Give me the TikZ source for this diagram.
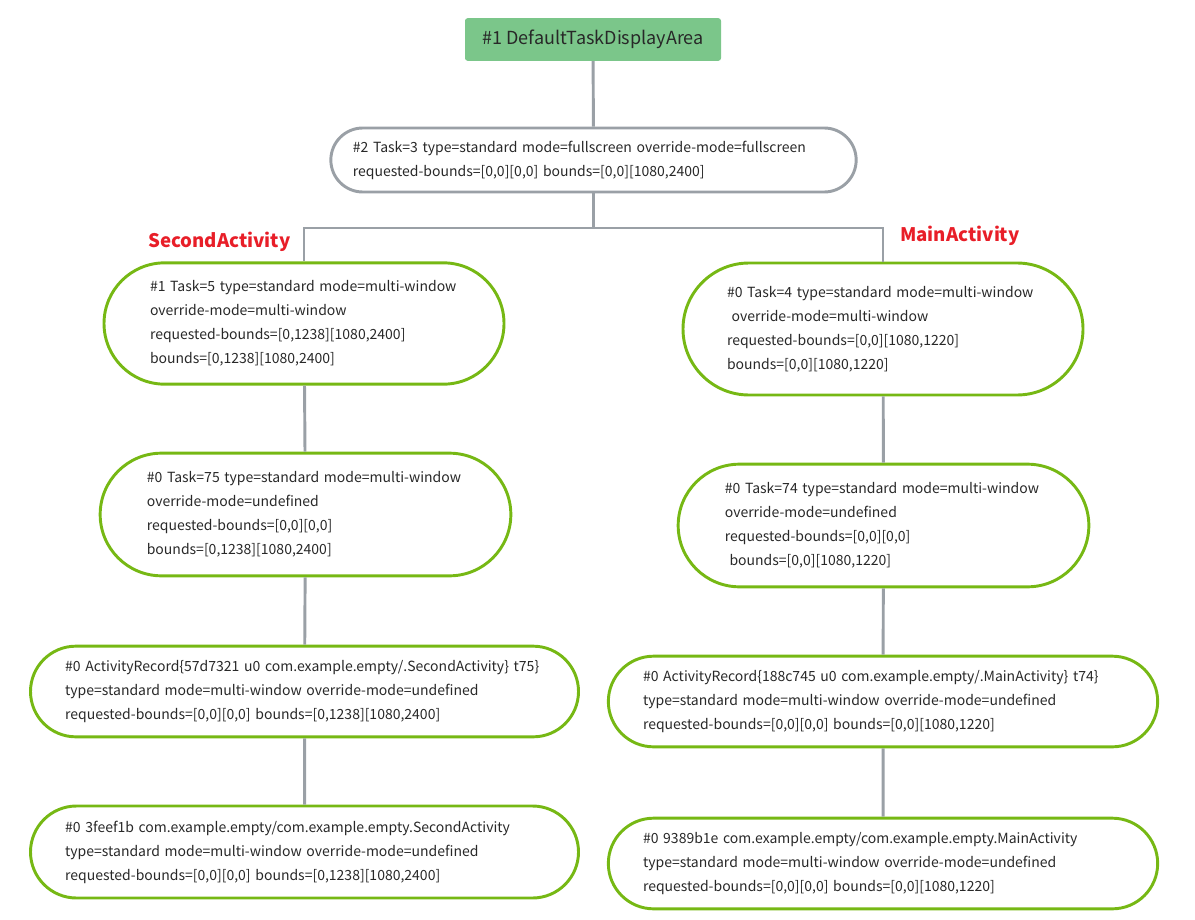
\documentclass[tikz,border=0pt]{standalone}
\usepackage{fontspec}
\setmainfont{Noto Sans CJK SC}
\usetikzlibrary{shapes.misc}
\definecolor{areagreen}{RGB}{123,198,138}
\definecolor{pillgreen}{RGB}{118,184,20}
\definecolor{linegray}{RGB}{154,160,166}
\definecolor{labelred}{RGB}{232,30,40}
\definecolor{txtgray}{RGB}{40,40,40}
\tikzset{
  pill/.style={draw=pillgreen, line width=2.2pt, rounded rectangle, align=left,
    text=txtgray, inner sep=0pt, font=\fontsize{10.5}{18}\selectfont,
    execute at begin node={\hyphenpenalty=10000 \exhyphenpenalty=10000 }},
  taskpill/.style={pill, draw=linegray},
  conn/.style={draw=linegray, line width=2.2pt},
  actlabel/.style={text=labelred, font=\fontsize{14}{16}\bfseries, anchor=west, inner sep=0pt}
}

\begin{document}
\begin{tikzpicture}[x=0.75pt, y=-0.75pt]
\useasboundingbox (0,0) rectangle (1195,920);
\node[fill=areagreen, rounded corners=2pt, minimum width=192pt, minimum height=32pt,
  text=txtgray, font=\fontsize{13.5}{16}\selectfont] (area) at (593,39.5) {\#1 DefaultTaskDisplayArea};
\node[taskpill, minimum width=394pt, minimum height=48pt, text width=361pt] (task3) at (593.5,160)
  {\#2 Task=3 type=standard mode=fullscreen override-mode=fullscreen\\
   requested-bounds=[0,0][0,0] bounds=[0,0][1080,2400]};
\coordinate (split) at (593.5,228);
% left column: SecondActivity
\node[actlabel] (secondlbl) at (148,242) {SecondActivity};
\node[pill, minimum width=300pt, minimum height=91pt, text width=231pt] (task5) at (304,323.5)
  {\#1 Task=5 type=standard mode=multi-window\\ override-mode=multi-window\\
   requested-bounds=[0,1238][1080,2400]\\ bounds=[0,1238][1080,2400]};
\node[pill, minimum width=308pt, minimum height=92pt, text width=238pt] (task75) at (305.5,514.5)
  {\#0 Task=75 type=standard mode=multi-window\\ override-mode=undefined\\
   requested-bounds=[0,0][0,0]\\ bounds=[0,1238][1080,2400]};
\node[pill, minimum width=411pt, minimum height=68pt, text width=359pt] (rec75) at (304.5,691.5)
  {\#0 ActivityRecord\{57d7321 u0 com.example.empty/.SecondActivity\} t75\}\\
   type=standard mode=multi-window override-mode=undefined\\
   requested-bounds=[0,0][0,0] bounds=[0,1238][1080,2400]};
\node[pill, minimum width=411pt, minimum height=69pt, text width=359pt] (win75) at (304.5,852)
  {\#0 3feef1b com.example.empty/com.example.empty.SecondActivity\\
   type=standard mode=multi-window override-mode=undefined\\
   requested-bounds=[0,0][0,0] bounds=[0,1238][1080,2400]};
% right column: MainActivity
\node[actlabel] (mainlbl) at (900,236) {MainActivity};
\node[pill, minimum width=300pt, minimum height=99pt, text width=234pt] (task4) at (883,329)
  {\#0 Task=4 type=standard mode=multi-window\\ \ override-mode=multi-window\\
   requested-bounds=[0,0][1080,1220]\\ bounds=[0,0][1080,1220]};
\node[pill, minimum width=308pt, minimum height=92pt, text width=238pt] (task74) at (883.5,525.5)
  {\#0 Task=74 type=standard mode=multi-window\\ override-mode=undefined\\
   requested-bounds=[0,0][0,0]\\ \ bounds=[0,0][1080,1220]};
\node[pill, minimum width=412pt, minimum height=68pt, text width=360pt] (rec74) at (883,701.5)
  {\#0 ActivityRecord\{188c745 u0 com.example.empty/.MainActivity\} t74\}\\
   type=standard mode=multi-window override-mode=undefined\\
   requested-bounds=[0,0][0,0] bounds=[0,0][1080,1220]};
\node[pill, minimum width=412pt, minimum height=68pt, text width=360pt] (win74) at (883,863.5)
  {\#0 9389b1e com.example.empty/com.example.empty.MainActivity\\
   type=standard mode=multi-window override-mode=undefined\\
   requested-bounds=[0,0][0,0] bounds=[0,0][1080,1220]};
% connectors
\draw[conn] (area) -- (task3);
\draw[conn] (task3) -- (split);
\draw[conn] (split) -| (task5.north);
\draw[conn] (split) -| (task4.north);
\draw[conn] (task5) -- (task75);
\draw[conn] (task75) -- (rec75);
\draw[conn] (rec75) -- (win75);
\draw[conn] (task4) -- (task74);
\draw[conn] (task74) -- (rec74);
\draw[conn] (rec74) -- (win74);
\end{tikzpicture}
\end{document}
